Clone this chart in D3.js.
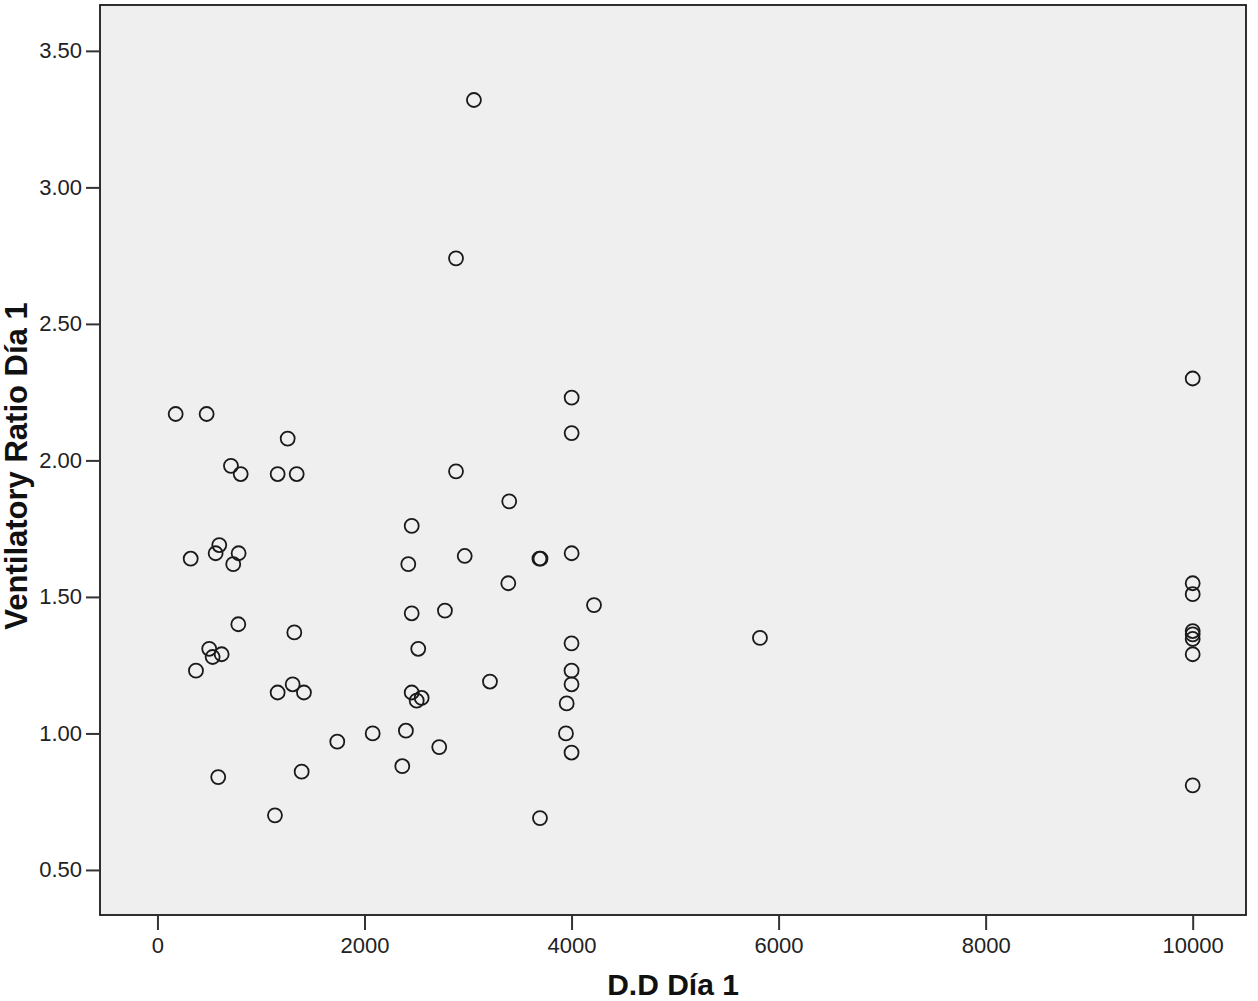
<!DOCTYPE html>
<html>
<head>
<meta charset="utf-8">
<script src="https://cdn.jsdelivr.net/npm/d3@7"></script>
<style>
	body { margin: 0; background: #fff; }
	svg { display: block; }
	text { font-family: "Liberation Sans", Arial, sans-serif; }
</style>
</head>
<body>
<svg id="chart" width="1258" height="1001"></svg>
<script>
// D.D Día 1 (x) and Ventilatory Ratio Día 1 (y), one entry per case
var ddDia1 = [
	176, 475, 1258, 710, 804, 1161, 1345, 2884, 2456, 321,
	597, 562, 784, 732, 2423, 2968, 2456, 2777, 781, 1322,
	2519, 500, 533, 620, 372, 1161, 1306, 1415, 2456, 2504,
	2552, 1737, 2079, 2400, 2722, 2365, 587, 1393, 1135, 3398,
	3389, 3690, 3700, 4001, 4217, 4000, 4000, 4000, 3953, 3946,
	4000, 3212, 3695, 3057, 2884, 4001, 4001, 5820,
	10000, 10000, 10000, 10000, 10000, 10000, 10000, 10000
];
var ventRatio = [
	2.17, 2.17, 2.08, 1.98, 1.95, 1.95, 1.95, 1.96, 1.76, 1.64,
	1.69, 1.66, 1.66, 1.62, 1.62, 1.65, 1.44, 1.45, 1.40, 1.37,
	1.31, 1.31, 1.28, 1.29, 1.23, 1.15, 1.18, 1.15, 1.15, 1.12,
	1.13, 0.97, 1.00, 1.01, 0.95, 0.88, 0.84, 0.86, 0.70, 1.85,
	1.55, 1.64, 1.64, 1.66, 1.47, 1.33, 1.23, 1.18, 1.11, 1.00,
	0.93, 1.19, 0.69, 3.32, 2.74, 2.23, 2.10, 1.35,
	2.30, 1.55, 1.51, 1.375, 1.363, 1.346, 1.29, 0.81
];
var xTicks = [0, 2000, 4000, 6000, 8000, 10000];
var yTicks = [0.5, 1.0, 1.5, 2.0, 2.5, 3.0, 3.5];

var svg = d3.select("#chart");
var box = {left: 100, top: 5, right: 1246, bottom: 915};

var x = d3.scaleLinear().domain([-555, 10515]).range([box.left, box.right]);
var y = d3.scaleLinear().domain([0.335, 3.668]).range([box.bottom, box.top]);

// plot background and frame
svg.append("rect")
	.attr("x", box.left)
	.attr("y", box.top)
	.attr("width", box.right - box.left)
	.attr("height", box.bottom - box.top)
	.attr("fill", "#efefef")
	.attr("stroke", "#1a1a1a")
	.attr("stroke-width", 1.8);

var xAxis = svg.append("g")
	.attr("transform", "translate(0," + (box.bottom + 1) + ")")
	.call(d3.axisBottom(x).tickValues(xTicks).tickFormat(d3.format("d")).tickSize(14).tickPadding(7));

var yAxis = svg.append("g")
	.attr("transform", "translate(" + (box.left - 1) + ",0)")
	.call(d3.axisLeft(y).tickValues(yTicks).tickFormat(d3.format(".2f")).tickSize(13).tickPadding(4));

[xAxis, yAxis].forEach(function(ax) {
	ax.select(".domain").remove();
	ax.selectAll(".tick line").attr("stroke", "#333").attr("stroke-width", 2);
	ax.selectAll(".tick text")
		.attr("fill", "#222")
		.style("font-size", "22px")
		.style("font-family", "'Liberation Sans', Arial, sans-serif");
});

// points
var pts = ddDia1.map(function(d, i) { return [d, ventRatio[i]]; });
svg.append("g").selectAll("circle")
	.data(pts)
	.enter().append("circle")
	.attr("cx", function(d) { return x(d[0]); })
	.attr("cy", function(d) { return y(d[1]); })
	.attr("r", 7)
	.attr("fill", "none")
	.attr("stroke", "#1a1a1a")
	.attr("stroke-width", 1.8);

// axis titles
svg.append("text")
	.attr("x", (box.left + box.right) / 2)
	.attr("y", 995)
	.attr("text-anchor", "middle")
	.style("font-size", "30px")
	.style("font-weight", "bold")
	.attr("fill", "#111")
	.text("D.D Día 1");

svg.append("text")
	.attr("transform", "translate(27,466) rotate(-90)")
	.attr("text-anchor", "middle")
	.style("font-size", "31px")
	.style("font-weight", "bold")
	.attr("fill", "#111")
	.text("Ventilatory Ratio Día 1");
</script>
</body>
</html>
